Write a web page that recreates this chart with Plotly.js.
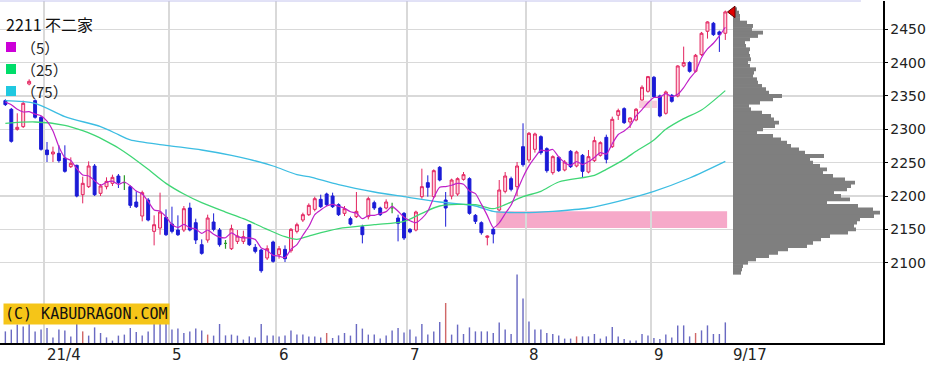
<!DOCTYPE html>
<html><head><meta charset="utf-8">
<script src="https://cdn.plot.ly/plotly-3.0.1.min.js"></script>
<style>html,body{margin:0;padding:0;background:#fff}#chart{width:948px;height:381px}</style>
</head><body><div id="chart"></div>
<script>
// ---- data (day index 0 = 2021-03-23 ... 121 = 2021-09-17) ----
const openP = [2343,2330,2300,2304,2368,2343,2318,2269,2263,2264,
 2257,2244,2246,2202,2214,2245,2204,2214,2219,2230,
 2220,2214,2191,2170,2194,2147,2152,2168,2158,2149,
 2149,2182,2160,2127,2134,2161,2149,2129,2121,2132,
 2132,2157,2123,2119,2107,2131,2112,2120,2118,2147,
 2164,2172,2180,2195,2203,2200,2187,2174,2166,2169,
 2154,2169,2190,2182,2182,2182,2167,2174,2150,2149,
 2199,2220,2199,2243,2194,2200,2203,2225,2226,2171,
 2160,2138,2150,2179,2207,2226,2214,2274,2254,2270,
 2289,2271,2235,2258,2239,2267,2245,2261,2236,2253,
 2261,2288,2274,2321,2331,2311,2314,2344,2357,2378,
 2350,2324,2351,2350,2395,2400,2387,2412,2447,2459,
 2446,2444];
const highP = [2345,2332,2324,2343,2375,2345,2320,2281,2274,2276,
 2276,2258,2247,2229,2252,2248,2218,2228,2232,2233,
 2231,2216,2207,2208,2197,2171,2205,2180,2184,2171,
 2185,2190,2166,2135,2172,2174,2152,2134,2157,2149,
 2148,2158,2128,2121,2126,2133,2125,2126,2152,2160,
 2175,2189,2199,2202,2205,2205,2189,2185,2169,2206,
 2157,2199,2193,2184,2195,2190,2172,2176,2152,2178,
 2241,2231,2240,2245,2206,2226,2228,2236,2228,2173,
 2162,2141,2152,2224,2236,2229,2251,2309,2296,2295,
 2291,2273,2261,2260,2254,2269,2268,2263,2269,2289,
 2282,2292,2319,2331,2333,2318,2332,2366,2380,2380,
 2352,2358,2353,2396,2424,2402,2413,2446,2462,2461,
 2448,2478];
const lowP = [2335,2280,2298,2302,2366,2316,2268,2251,2251,2250,
 2235,2242,2198,2189,2212,2200,2200,2210,2215,2212,
 2209,2182,2182,2162,2162,2126,2142,2140,2144,2140,
 2146,2147,2128,2112,2130,2147,2124,2121,2119,2128,
 2128,2125,2114,2085,2104,2100,2106,2101,2115,2144,
 2161,2170,2177,2182,2185,2182,2170,2170,2156,2167,
 2129,2165,2179,2170,2180,2174,2132,2134,2144,2147,
 2196,2199,2197,2222,2154,2195,2200,2223,2172,2158,
 2142,2126,2129,2177,2204,2207,2200,2244,2250,2265,
 2262,2235,2232,2236,2237,2242,2243,2228,2234,2251,
 2259,2249,2272,2314,2308,2302,2312,2343,2355,2347,
 2318,2322,2340,2348,2393,2385,2385,2410,2436,2440,
 2416,2434];
const closeP = [2337,2282,2303,2339,2372,2318,2270,2262,2266,2253,
 2237,2249,2200,2219,2245,2202,2215,2222,2228,2220,
 2220,2186,2184,2205,2164,2157,2176,2142,2147,2142,
 2181,2149,2134,2114,2167,2150,2127,2129,2151,2140,
 2139,2127,2117,2088,2121,2102,2121,2106,2150,2157,
 2172,2186,2196,2184,2187,2184,2172,2181,2158,2177,
 2142,2196,2182,2172,2191,2182,2159,2137,2146,2176,
 2214,2213,2238,2224,2182,2224,2226,2232,2174,2162,
 2145,2140,2143,2209,2230,2210,2245,2247,2294,2293,
 2265,2238,2259,2238,2251,2244,2266,2237,2259,2283,
 2280,2255,2315,2328,2310,2317,2330,2363,2379,2349,
 2320,2356,2342,2395,2400,2387,2411,2444,2461,2442,
 2442,2476];
const volume = [58,67,92,83,95,58,67,75,28,67,
 62,33,100,58,37,78,50,28,12,37,
 42,75,55,37,58,100,105,100,67,72,
 50,58,72,62,42,37,95,38,42,37,
 17,33,28,95,38,37,33,38,63,42,
 42,33,33,28,50,25,38,50,37,95,
 72,42,42,22,38,62,75,53,67,33,
 95,42,58,105,200,42,92,45,78,58,
 58,58,50,103,67,45,342,222,108,67,
 67,50,45,37,22,22,33,33,33,45,
 22,33,80,33,20,13,13,45,37,25,
 20,42,28,88,88,33,50,63,88,45,
 45,103];
const sqDays = [13,34,54,74,96,116];          // red volume bars
const monthStartIdx = [7,28,46,68,88,109];
const monthLabels = ['21/4','5','6','7','8','9'];
const lastLabel = '9/17';
const ma5Lead = [2341,2337,2330,2326];          // MA5 before 5 closes exist (read)
const ma25Idx = [0,5,10,13,15,17,19,21,24,27,30,33,37,40,44,47,49,51,56,62,67,70,73,79,82,84,87,90,93,99,101,104,106,109,111,114,117,121];
const ma25Val = [2309,2311,2306,2298,2291,2282,2272,2260,2240,2219,2203,2190,2176,2166,2150,2139,2135,2140,2151,2157,2162,2174,2185,2187,2181,2187,2199,2207,2221,2231,2240,2255,2267,2284,2300,2316,2329,2358];
const ma75Idx = [0,5,10,16,19,21,27,33,38,41,45,49,51,56,62,67,73,79,82,87,92,98,103,109,115,121];
const ma75Val = [2343,2339,2319,2304,2292,2284,2276,2269,2261,2255,2245,2232,2229,2217,2206,2199,2191,2185,2177,2175,2177,2182,2192,2207,2227,2252];
const profPrice = [2085,2090,2095,2100,2105,2110,2115,2120,2125,2130,
 2135,2140,2145,2150,2155,2160,2165,2170,2175,2180,
 2185,2190,2195,2200,2205,2210,2215,2220,2225,2230,
 2235,2240,2245,2250,2255,2260,2265,2270,2275,2280,
 2285,2290,2295,2300,2305,2310,2315,2320,2325,2330,
 2335,2340,2345,2350,2355,2360,2365,2370,2375,2380,
 2385,2390,2395,2400,2405,2410,2415,2420,2425,2430,
 2435,2440,2445,2450,2455,2460,2465,2470,2475,2480];
const profVol = [8,9,10,15,23,36,45,55,74,80,
 88,97,115,123,121,124,127,141,147,140,
 125,94,117,108,101,114,118,122,112,100,
 90,94,87,80,77,91,72,66,58,54,
 48,40,24,30,42,46,41,38,29,18,
 16,27,40,49,36,33,29,25,24,20,
 21,23,17,15,18,17,16,17,13,12,
 17,25,30,19,20,14,7,7,6,4];
const gapZones = [{from: 82, filled: null}, {from: 106, filled: 110}];
const yTicks = [2100,2150,2200,2250,2300,2350,2400,2450];

// ---- derived ----
const n = closeP.length, last = n - 1;
const idx = closeP.map((_, i) => i);
const ma5 = closeP.map((_, i) => i < 4 ? ma5Lead[i] :
  (closeP[i] + closeP[i-1] + closeP[i-2] + closeP[i-3] + closeP[i-4]) / 5);
const isDoji = i => openP[i] === closeP[i];
const pick = (arr, cond) => idx.filter(cond).map(i => arr[i]);
const normal = i => !isDoji(i), doji = i => isDoji(i);

// ---- geometry helpers (pixels -> paper) ----
const W = 883, T = 1, H = 342;
const px = v => v / W, py = v => (T + H - v) / H;

const traces = [
  { type: 'bar', x: idx, y: volume, yaxis: 'y2', width: 0.24,
    marker: { color: idx.map(i => sqDays.includes(i) ? '#d06868' : '#6a6ac2'), line: { width: 0 } },
    hoverinfo: 'skip' },
  { type: 'bar', orientation: 'h', x: profVol, y: profPrice, xaxis: 'x2', width: 5.8,
    marker: { color: '#7f7f7f', line: { width: 0 } }, hoverinfo: 'skip' },
  { type: 'scatter', mode: 'lines', x: ma75Idx, y: ma75Val,
    line: { color: '#3cbde2', width: 1.3, shape: 'spline', smoothing: 0.8 }, hoverinfo: 'skip' },
  { type: 'scatter', mode: 'lines', x: ma25Idx, y: ma25Val,
    line: { color: '#3fd675', width: 1.3, shape: 'spline', smoothing: 0.8 }, hoverinfo: 'skip' },
  { type: 'scatter', mode: 'lines', x: idx, y: ma5,
    line: { color: '#c020c8', width: 1.2, shape: 'spline', smoothing: 0.6 }, hoverinfo: 'skip' },
  { type: 'candlestick', x: pick(idx, normal), open: pick(openP, normal), high: pick(highP, normal),
    low: pick(lowP, normal), close: pick(closeP, normal), whiskerwidth: 0,
    increasing: { line: { color: '#e3245f', width: 1 }, fillcolor: '#ffd3e0' },
    decreasing: { line: { color: '#1b1bd6', width: 1 }, fillcolor: '#1b1bd6' }, hoverinfo: 'skip' },
  { type: 'candlestick', x: pick(idx, doji), open: pick(openP, doji), high: pick(highP, doji),
    low: pick(lowP, doji), close: pick(closeP, doji), whiskerwidth: 0,
    increasing: { line: { color: '#2a9a2a', width: 1.2 }, fillcolor: '#2a9a2a' },
    decreasing: { line: { color: '#2a9a2a', width: 1.2 }, fillcolor: '#2a9a2a' }, hoverinfo: 'skip' },
  { type: 'scatter', mode: 'markers', x: [-0.5], y: [closeP[last]], xaxis: 'x2',
    marker: { symbol: 'triangle-left', size: 10, color: '#e00000', line: { color: '#600000', width: 1 } },
    hoverinfo: 'skip' }
];

const shapes = gapZones.map(z => ({
  type: 'rect', xref: 'x', yref: 'y', layer: 'below',
  x0: z.from + 0.5, x1: z.filled === null ? last + 0.3 : z.filled - 0.5,
  y0: highP[z.from], y1: lowP[z.from + 1],
  fillcolor: z.filled === null ? '#f6a9c9' : '#f8c8da', line: { width: 0 }
}));
shapes.push({ type: 'line', xref: 'paper', yref: 'paper', x0: 0, x1: 0.975, y0: 1, y1: 1,
  line: { color: '#c4c4ee', width: 1 } });
const legendItems = [['（5）', '#cc00d8', 47], ['（25）', '#00dd6a', 69], ['（75）', '#20c8e0', 91]];
legendItems.forEach(([t, c, y]) => shapes.push({ type: 'rect', xref: 'paper', yref: 'paper',
  x0: px(6), x1: px(16), y0: py(y + 5), y1: py(y - 5), fillcolor: c, line: { width: 0 } }));

const annotations = [];
monthStartIdx.forEach((m, k) => annotations.push({ x: m - 0.5, xref: 'x', y: 0, yref: 'paper',
  text: monthLabels[k], showarrow: false, xanchor: 'left', yanchor: 'top', xshift: 1, yshift: -1,
  font: { family: 'DejaVu Sans', size: 15, color: '#222' } }));
annotations.push({ x: last, xref: 'x', y: 0, yref: 'paper', text: lastLabel, showarrow: false,
  xanchor: 'left', yanchor: 'top', xshift: 6, yshift: -1, font: { family: 'DejaVu Sans', size: 15, color: '#222' } });
annotations.push({ x: px(4), xref: 'paper', y: py(24), yref: 'paper', text: '2211 不二家', showarrow: false,
  xanchor: 'left', yanchor: 'middle', font: { family: 'Noto Sans CJK JP', size: 16, color: '#111' } });
legendItems.forEach(([t, c, y]) => annotations.push({ x: px(19), xref: 'paper', y: py(y), yref: 'paper',
  text: t, showarrow: false, xanchor: 'left', yanchor: 'middle',
  font: { family: 'Noto Sans CJK JP', size: 15, color: '#222' } }));
annotations.push({ x: px(3), xref: 'paper', y: py(313.5), yref: 'paper', text: '(C) KABUDRAGON.COM',
  showarrow: false, xanchor: 'left', yanchor: 'middle', bgcolor: '#f5c518', borderpad: 1,
  font: { family: 'DejaVu Sans Mono', size: 15, color: '#111' } });

const layout = {
  width: 948, height: 381, margin: { l: 0, r: 65, t: T, b: 381 - T - H },
  paper_bgcolor: '#fff', plot_bgcolor: '#fff', showlegend: false, hovermode: false,
  xaxis: { range: [-0.9, 147.5], tickvals: monthStartIdx.map(m => m - 0.5), showticklabels: false,
    ticks: '', showgrid: true, gridcolor: '#d9d9d9', gridwidth: 1.5, zeroline: false,
    showline: true, linecolor: '#000', linewidth: 1.5, rangeslider: { visible: false }, fixedrange: true },
  xaxis2: { overlaying: 'x', range: [-733, 150], visible: false, fixedrange: true },
  yaxis: { side: 'right', range: [1979.6, 2492.4], tickvals: yTicks, ticks: 'outside', ticklen: 3,
    tickcolor: '#000', showline: true, linecolor: '#000', linewidth: 1.5, showgrid: true,
    gridcolor: '#d9d9d9', gridwidth: 1.5, zeroline: false,
    tickfont: { family: 'DejaVu Sans', size: 14, color: '#222' }, fixedrange: true },
  yaxis2: { overlaying: 'y', range: [0, 5 * H], visible: false, fixedrange: true },
  shapes: shapes, annotations: annotations
};
Plotly.newPlot('chart', traces, layout, { staticPlot: true, displayModeBar: false });
</script></body></html>
